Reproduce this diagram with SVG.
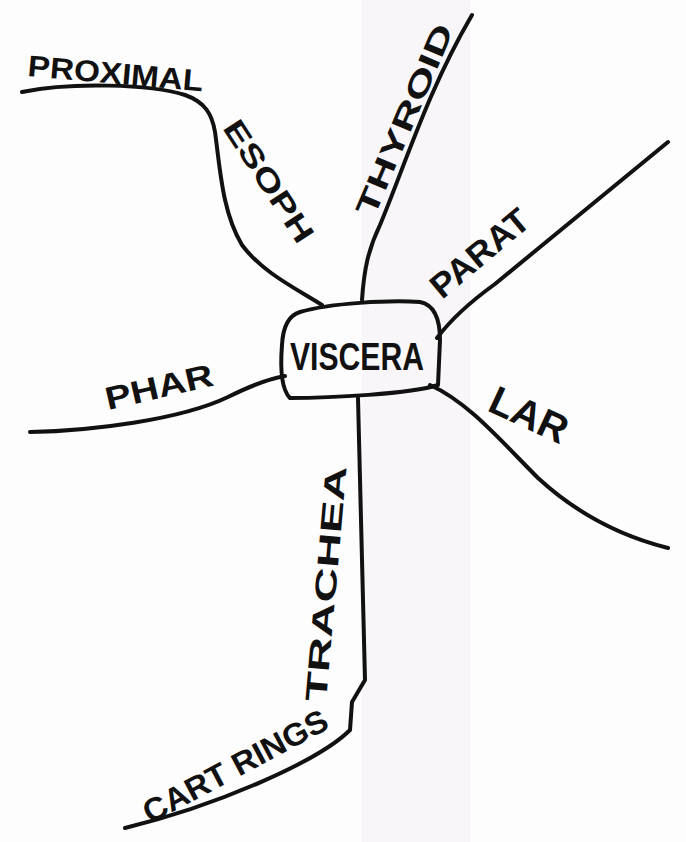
<svg xmlns="http://www.w3.org/2000/svg" width="686" height="842" viewBox="0 0 686 842">
<style>
.ln{fill:none;stroke:#111;stroke-width:4;stroke-linecap:round;stroke-linejoin:round}
.lb{font-family:"Liberation Sans","DejaVu Sans",sans-serif;fill:#111;font-weight:bold}
</style>
<rect width="686" height="842" fill="#fdfdfd"/>
<rect x="362" y="0" width="108" height="842" fill="#f8f6f8"/>
<g id="connectors">
<path class="ln" d="M22,92 C70,82 150,84 185,95 C205,102 212,114 215,132 C220,167 222,212 242,245 C262,272 295,288 322,305"/>
<path class="ln" d="M362,300 C364,270 368,250 380,225 C405,165 428,90 472,15"/>
<path class="ln" d="M437,338 C452,318 470,302 495,284 L668,142"/>
<path class="ln" d="M30,432 C90,431 180,420 228,397 C252,385 268,379 285,376"/>
<path class="ln" d="M430,385 C468,402 500,440 538,478 C575,512 620,536 668,548"/>
<path class="ln" d="M358,398 L362,560 L365,680 L352,702 L350,730 C320,760 220,805 125,828"/>
</g>
<g id="viscera">
<path class="ln" d="M300,312 C330,303 390,300 420,302 C435,305 440,320 440,340 L438,385 C410,394 330,398 290,398 C282,390 280,370 282,345 C283,325 290,315 300,312 Z" fill="#fff"/>
<text class="lb" x="290" y="370" font-size="38" textLength="134" lengthAdjust="spacingAndGlyphs">VISCERA</text>
</g>
<g id="proximal-esoph">
<text class="lb" font-size="30" transform="translate(27,76) rotate(5)" textLength="176" lengthAdjust="spacingAndGlyphs">PROXIMAL</text>
<text class="lb" font-size="30" transform="translate(222,128) rotate(57)" textLength="140" lengthAdjust="spacingAndGlyphs">ESOPH</text>
</g>
<g id="thyroid">
<text class="lb" font-size="30" transform="translate(374,218) rotate(-67)" textLength="205" lengthAdjust="spacingAndGlyphs">THYROID</text>
</g>
<g id="parat">
<text class="lb" font-size="34" transform="translate(442,300) rotate(-40)" textLength="118" lengthAdjust="spacingAndGlyphs">PARAT</text>
</g>
<g id="phar">
<text class="lb" font-size="32" transform="translate(108,410) rotate(-13)" textLength="110" lengthAdjust="spacingAndGlyphs">PHAR</text>
</g>
<g id="lar">
<text class="lb" font-size="40" transform="translate(486,410) rotate(25)" textLength="82" lengthAdjust="spacingAndGlyphs">LAR</text>
</g>
<g id="trachea">
<text class="lb" font-size="30" transform="translate(326,702) rotate(-85)" textLength="236" lengthAdjust="spacingAndGlyphs">TRACHEA</text>
<text class="lb" font-size="32" transform="translate(150,824) rotate(-28)" textLength="205" lengthAdjust="spacingAndGlyphs">CART RINGS</text>
</g>
</svg>
